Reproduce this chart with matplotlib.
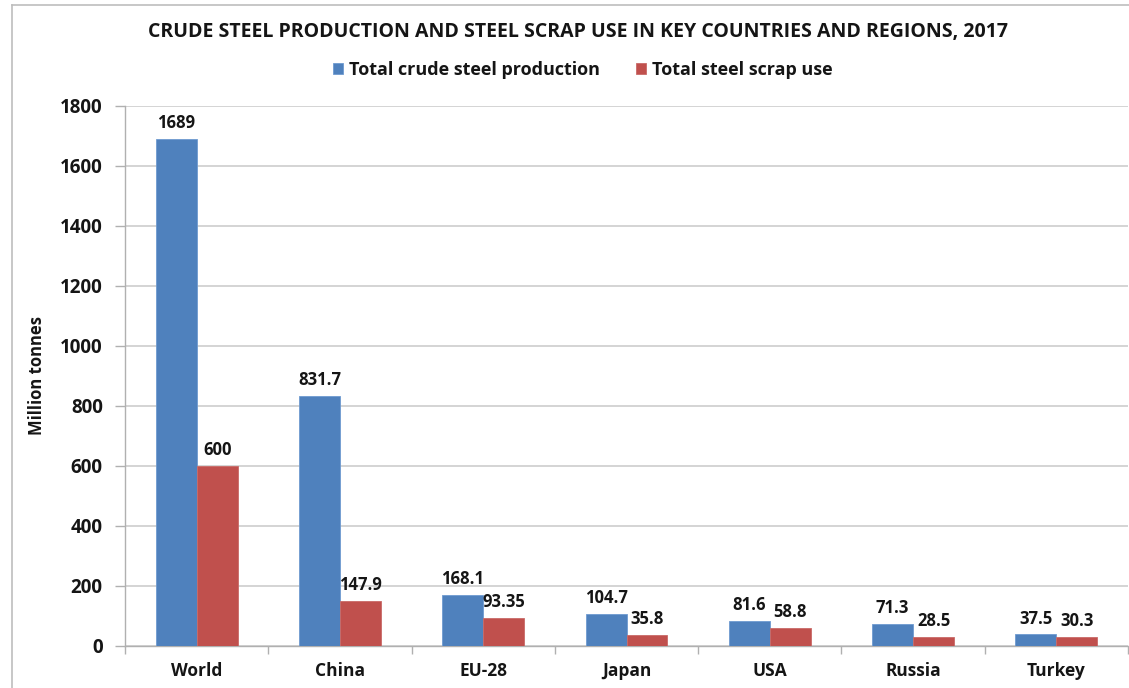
import matplotlib
matplotlib.use("Agg")
import matplotlib.pyplot as plt
import numpy as np
from matplotlib.lines import Line2D

categories = ["World", "China", "EU-28", "Japan", "USA", "Russia", "Turkey"]
production = [1689, 831.7, 168.1, 104.7, 81.6, 71.3, 37.5]
scrap = [600, 147.9, 93.35, 35.8, 58.8, 28.5, 30.3]
prod_labels = ["1689", "831.7", "168.1", "104.7", "81.6", "71.3", "37.5"]
scrap_labels = ["600", "147.9", "93.35", "35.8", "58.8", "28.5", "30.3"]
series_names = ["Total crude steel production", "Total steel scrap use"]
title = "CRUDE STEEL PRODUCTION AND STEEL SCRAP USE IN KEY COUNTRIES AND REGIONS, 2017"
ylabel = "Million tonnes"
yticks = [0, 200, 400, 600, 800, 1000, 1200, 1400, 1600, 1800]

plt.rcParams['font.family'] = ['Open Sans', 'DejaVu Sans']
plt.rcParams['font.weight'] = 'bold'

blue = "#4f81bd"
red = "#c0504d"
txt = "#151515"

fig = plt.figure(figsize=(11.29, 6.88), dpi=100)
ax = fig.add_axes([125/1129, 1 - 645.7/688, (1128-125)/1129, (645.7-105.7)/688])

x = np.arange(len(categories))
w = 0.286
ax.bar(x - w/2, production, w, color=blue, edgecolor="#6f9bd0", linewidth=0.6, zorder=3, label=series_names[0])
ax.bar(x + w/2, scrap, w, color=red, edgecolor="#c96a67", linewidth=0.6, zorder=3, label=series_names[1])

for xi, v, lab in zip(x, production, prod_labels):
    ax.annotate(lab, (xi - w/2, v), xytext=(0, 5), textcoords="offset points",
                ha="center", va="bottom", fontsize=12, fontweight="bold", color=txt)
for xi, v, lab in zip(x, scrap, scrap_labels):
    ax.annotate(lab, (xi + w/2, v), xytext=(0, 5), textcoords="offset points",
                ha="center", va="bottom", fontsize=12, fontweight="bold", color=txt)

ax.set_xlim(-0.5, len(categories) - 0.5)
ax.set_ylim(0, 1800)
ax.set_yticks(yticks)
ax.set_yticklabels([str(t) for t in yticks], fontsize=13.5, fontweight="bold", color=txt)
ax.yaxis.grid(True, color="#d4d4d4", linewidth=1.4, zorder=0)
ax.set_axisbelow(True)

ax.set_xticks(x)
ax.set_xticklabels(categories, fontsize=12.5, fontweight="bold", color=txt)
ax.tick_params(axis="x", length=0, pad=12)
ax.set_xticks(np.arange(-0.5, len(categories)), minor=True)
ax.tick_params(axis="x", which="minor", length=6, color="#b0b0b0", width=1)
ax.tick_params(axis="y", length=7, color="#b0b0b0", width=1, pad=9)

for s in ["top", "right"]:
    ax.spines[s].set_visible(False)
ax.spines["left"].set_color("#b0b0b0")
ax.spines["bottom"].set_color("#b0b0b0")
ax.spines["left"].set_linewidth(1)
ax.spines["bottom"].set_linewidth(1)

ax.set_ylabel(ylabel, fontsize=12, fontweight="bold", color=txt, labelpad=10)

fig.text(578/1129, 1 - 32/688, title, ha="center", va="center", fontsize=14, fontweight="bold", color=txt)

handles, labels = ax.get_legend_handles_labels()
leg = fig.legend(handles, labels, loc="center", bbox_to_anchor=(583/1129, 1 - 70/688), ncol=2,
                 frameon=False, fontsize=13, handlelength=0.55, handleheight=0.55,
                 columnspacing=2.0, handletextpad=0.35)
for t in leg.get_texts():
    t.set_fontweight("bold")
    t.set_color(txt)

# figure border (top and left)
fig.add_artist(Line2D([12/1129, 12/1129], [0, 1 - 5/688], transform=fig.transFigure, color="#bdbdbd", linewidth=1.2))
fig.add_artist(Line2D([12/1129, 1], [1 - 5/688, 1 - 5/688], transform=fig.transFigure, color="#bdbdbd", linewidth=1.2))

fig.savefig("out.png", dpi=100)
